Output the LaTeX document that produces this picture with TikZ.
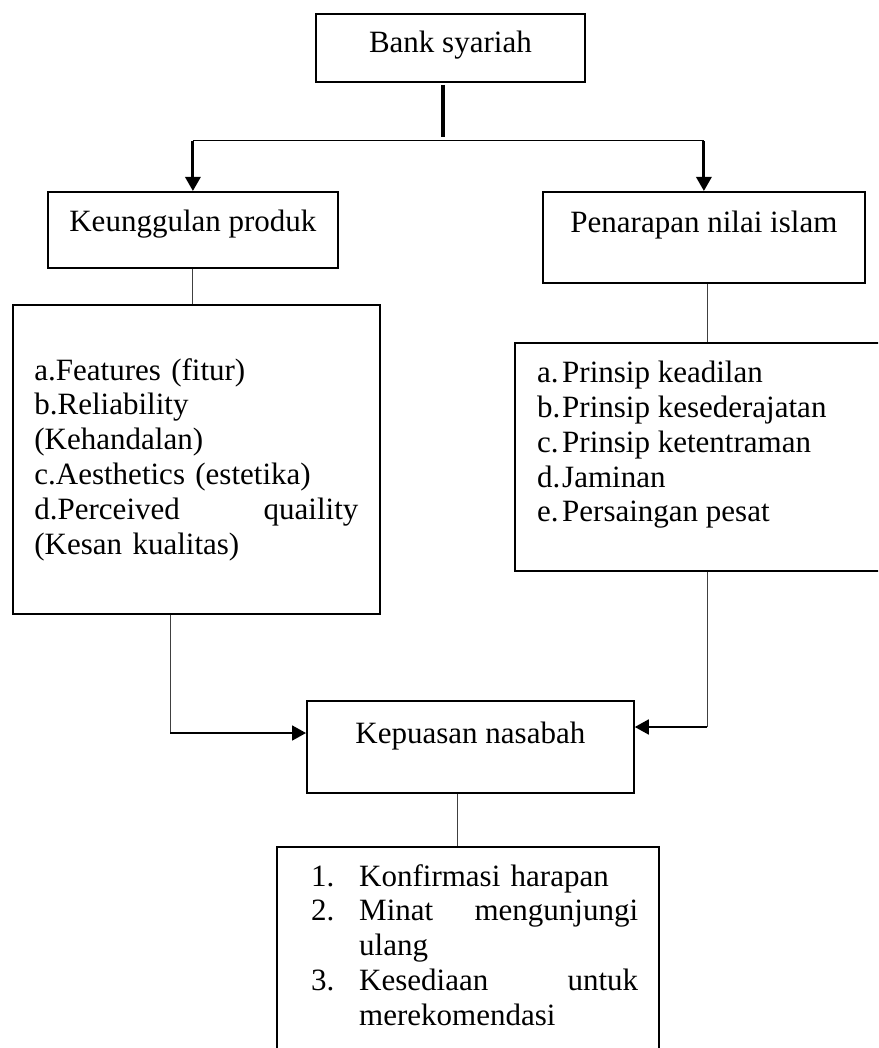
\documentclass[tikz,border=0pt]{standalone}
\usepackage{fontspec}
\setmainfont{Liberation Serif}
\usepackage{tikz}
\usetikzlibrary{arrows.meta,positioning}

\begin{document}
\begin{tikzpicture}[x=1pt,y=-1pt,font=\fontsize{31}{34.8}\selectfont]
        \tikzstyle{box}=[draw=black,line width=1.8pt,inner sep=0pt,anchor=north west]
        \tikzstyle{txt}=[inner sep=0pt,anchor=north west,align=left]
        \tikzstyle{link}=[draw=black!75,line width=1pt]
        \tikzstyle{feed}=[draw=black,line width=1.8pt,-{Triangle[length=14pt,width=15pt]}]
        \useasboundingbox (0,0) rectangle (878,1048);
        \clip (0,0) rectangle (878,1048);
        % boxes
        \node[box,minimum width=269pt,text height=39pt,text depth=29pt] (Bs) at (315,13) {Bank syariah};
        \node[box,minimum width=290pt,text height=40pt,text depth=36pt] (Kp) at (47,191) {Keunggulan produk};
        \node[box,minimum width=322pt,text height=41pt,text depth=50pt] (Pn) at (542,191) {Penarapan nilai islam};
        \node[box,minimum width=367pt,minimum height=309pt,text width=324pt,align=left] (Ft) at (12,304) {a.Features (fitur)\\
            b.Reliability\\
            (Kehandalan)\\
            c.Aesthetics (estetika)\\
            d.Perceived\hfill quaility\\
            (Kesan kualitas)};
        \node[box,minimum width=420pt,minimum height=228pt] (Pr) at (514,342) {};
        \node[txt] (PrTxt) at (537,361) {\makebox[25pt][l]{a.}Prinsip keadilan\\
            \makebox[25pt][l]{b.}Prinsip kesederajatan\\
            \makebox[25pt][l]{c.}Prinsip ketentraman\\
            \makebox[25pt][l]{d.}Jaminan\\
            \makebox[25pt][l]{e.}Persaingan pesat};
        \node[box,minimum width=327pt,text height=43pt,text depth=49pt] (Kn) at (306,700) {Kepuasan nasabah};
        \node[box,minimum width=382pt,minimum height=230pt] (Ls) at (276,846) {};
        \node[txt,text width=327pt] (LsTxt) at (311,864) {\makebox[48pt][l]{1.}Konfirmasi harapan\\
            \makebox[48pt][l]{2.}Minat\hfill mengunjungi\\
            \hspace*{48pt}ulang\\
            \makebox[48pt][l]{3.}Kesediaan\hfill untuk\\
            \hspace*{48pt}merekomendasi};
        % connectors
        \coordinate (St) at (443,85);
        \coordinate (Sb) at (443,137);
        \coordinate (Sp) at (443,141);
        \coordinate (Pj) at (707,300);
        \draw[line width=4pt] (St) -- (Sb);
        \draw[link,black] (Kp.north |- Sp) -- (Pn.north |- Sp);
        \draw[feed,line width=3pt] (Kp.north |- Sp) -- (Kp.north);
        \draw[feed,line width=3pt] (Pn.north |- Sp) -- (Pn.north);
        \draw[link] (Kp.south) -- (Kp.south |- Ft.north);
        \draw[link] (Pn.south -| Pj) -- (Pr.north -| Pj);
        \coordinate (Lc) at (170,733);
        \coordinate (Rc) at (707,727);
        \draw[link] (Ft.south -| Lc) -- (Lc);
        \draw[feed] (Lc) -- (Kn.west |- Lc);
        \draw[link] (Pr.south -| Rc) -- (Rc);
        \draw[feed] (Rc) -- (Kn.east |- Rc);
        \draw[link] ([xshift=-12.5pt]Kn.south) -- ([xshift=-12.5pt]Kn.south |- Ls.north);
    \end{tikzpicture}
\end{document}
